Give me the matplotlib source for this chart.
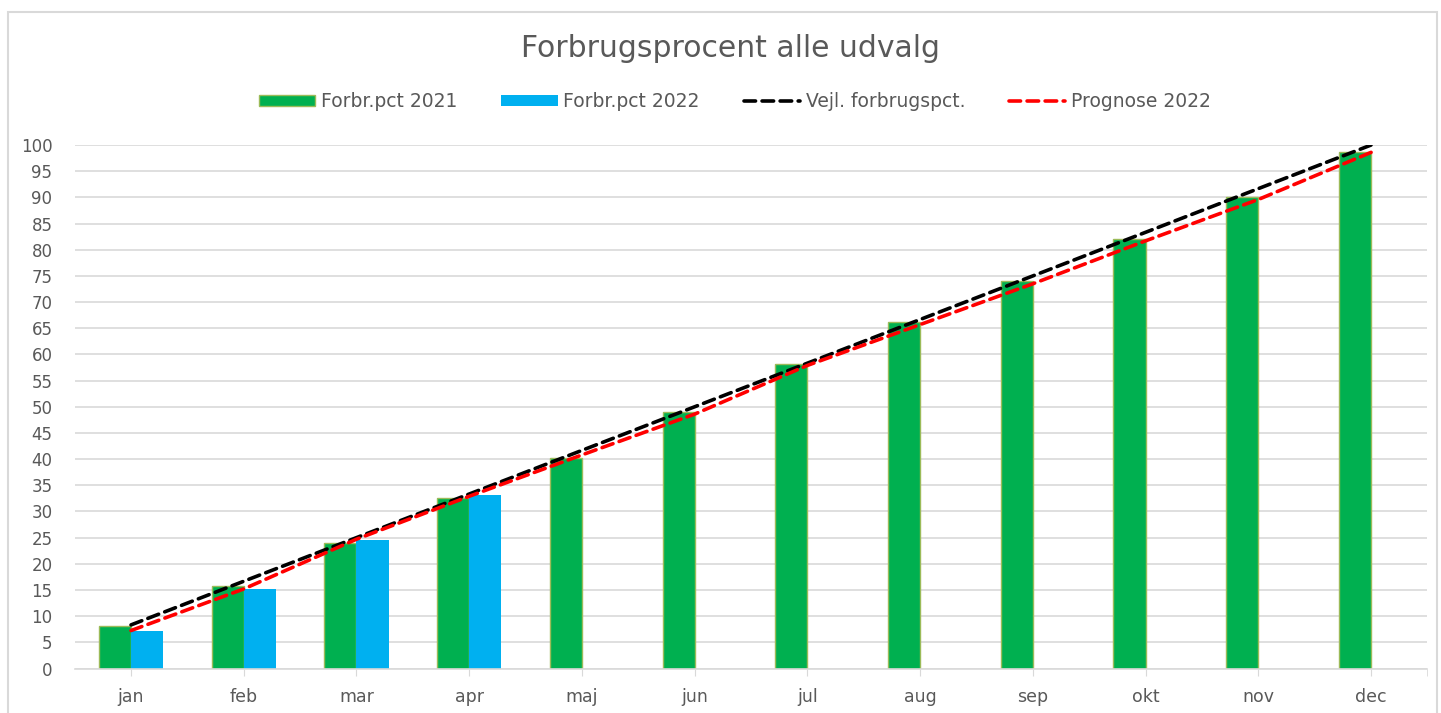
import matplotlib
matplotlib.use("Agg")
import matplotlib.pyplot as plt
import numpy as np
from matplotlib.patches import Rectangle

months = ["jan", "feb", "mar", "apr", "maj", "jun", "jul", "aug", "sep", "okt", "nov", "dec"]
forbr_2021 = [8.1, 15.8, 24.0, 32.5, 40.3, 49.0, 58.1, 66.1, 74.1, 82.1, 90.1, 98.7]
forbr_2022 = [7.25, 15.1, 24.6, 33.1]
vejl = [8.33, 16.67, 25.0, 33.33, 41.67, 50.0, 58.33, 66.67, 75.0, 83.33, 91.67, 100.0]
prognose = [7.25, 15.2, 24.7, 32.9, 40.8, 48.6, 57.9, 65.7, 73.5, 81.7, 89.6, 98.6]
yticks = list(range(0, 101, 5))

plt.rcParams['font.family'] = ['DejaVu Sans']
txt = '#595959'

fig = plt.figure(figsize=(14.41, 7.13), dpi=100)
ax = fig.add_axes([0.0518, 0.0624, 0.9388, 0.7342])

x = np.arange(len(months))
w = 0.285
b1 = ax.bar(x - w / 2, forbr_2021, width=w, color='#00B050', edgecolor='#9BBB59', linewidth=1.0,
            label='Forbr.pct 2021', zorder=2)
b2 = ax.bar(x[:len(forbr_2022)] + w / 2, forbr_2022, width=w, color='#00B0F0', edgecolor='none',
            label='Forbr.pct 2022', zorder=2)
l1, = ax.plot(x, vejl, color='black', lw=2.6, dashes=(3.2, 1.8), dash_capstyle='round',
              label='Vejl. forbrugspct.', zorder=3)
l2, = ax.plot(x, prognose, color='#FF0000', lw=2.6, dashes=(3.2, 1.8), dash_capstyle='round',
              label='Prognose 2022', zorder=4)

ax.set_xlim(-0.5, 11.5)
ax.set_ylim(0, 100)
ax.set_yticks(yticks)
ax.set_xticks(x)
ax.set_xticklabels(months)
ax.set_xticks([11.5], minor=True)
ax.yaxis.grid(True, color='#D9D9D9', lw=1.2, zorder=0)
ax.set_axisbelow(True)
for s in ['top', 'right', 'left']:
    ax.spines[s].set_visible(False)
ax.spines['bottom'].set_color('#D9D9D9')
ax.spines['bottom'].set_linewidth(1.2)
ax.tick_params(axis='y', length=0, labelsize=12, labelcolor=txt, pad=16)
ax.tick_params(axis='x', which='both', length=5, color='#D9D9D9', labelsize=12.5, labelcolor=txt, pad=9)

fig.text(0.507, 0.932, 'Forbrugsprocent alle udvalg', ha='center', va='center', fontsize=21.5, color=txt)

leg = fig.legend([b1, b2, l1, l2], ['Forbr.pct 2021', 'Forbr.pct 2022', 'Vejl. forbrugspct.', 'Prognose 2022'],
                 loc='center', bbox_to_anchor=(0.51, 0.857), ncol=4, frameon=False,
                 fontsize=13.5, handlelength=3.0, handleheight=0.55, columnspacing=2.35,
                 handletextpad=0.3, labelcolor=txt)

fig.add_artist(Rectangle((8 / 1441, -0.01), 1429 / 1441, 1 - 12 / 713 + 0.01, transform=fig.transFigure,
                         fill=False, edgecolor='#D9D9D9', lw=1.5))

fig.savefig('out.png', dpi=100, facecolor='white')
